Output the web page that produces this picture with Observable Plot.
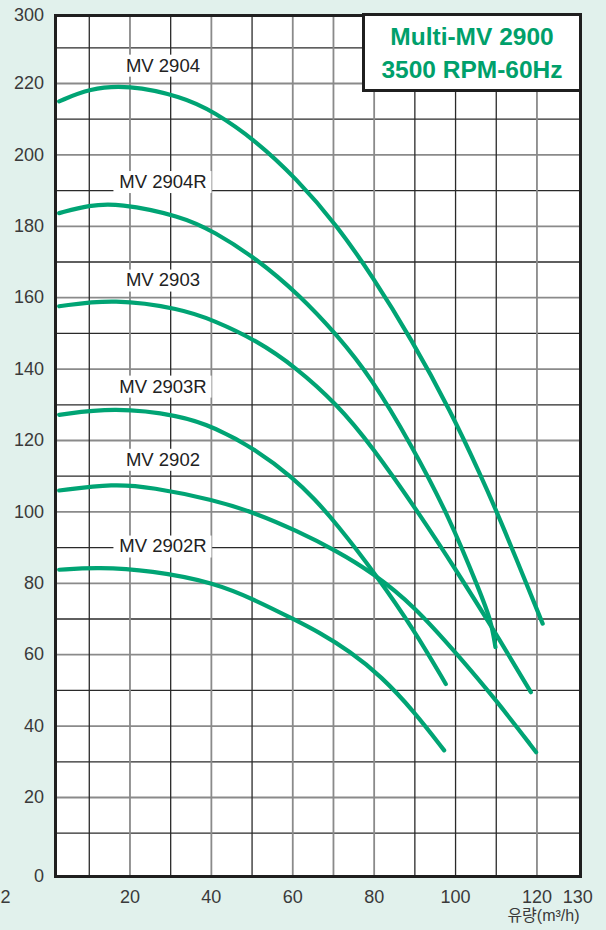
<!DOCTYPE html>
<html>
<head>
<meta charset="utf-8">
<script src="https://cdn.jsdelivr.net/npm/d3@7"></script>
<script src="https://cdn.jsdelivr.net/npm/@observablehq/plot@0.6"></script>
<style>
  html, body { margin: 0; padding: 0; background: #e1f1ec; overflow: hidden; }
  #wrap { position: relative; width: 606px; height: 930px; }
  #title {
    position: absolute; left: 362px; top: 13px; width: 220px; height: 79px;
    box-sizing: border-box; border: 3px solid #1f1f1f; background: #fff;
    font-family: 'Liberation Sans', Arial, sans-serif; font-weight: bold;
    font-size: 24.5px; line-height: 32.6px; color: #00a06b; text-align: center;
    padding-top: 5px;
  }
</style>
</head>
<body>
<div id="wrap">
  <div id="chart"></div>
  <div id="title">Multi-MV 2900<br>3500 RPM-60Hz</div>
</div>
<script>
// ---- data (flow m3/h, head m) ----
const mv2904Q  = [2.6, 10, 19.5, 32.6, 40.7, 51, 60.8, 71, 79.6, 89, 98.9, 106.2, 111.2, 121.4];
const mv2904H  = [215.0, 218.6, 219.6, 216.4, 212.1, 203.9, 193.5, 180.1, 165.9, 148.7, 128.0, 110.2, 97.3, 68.7];
const mv2904RQ = [2.6, 10, 17, 32.5, 40.7, 51, 61.6, 71, 79.2, 89, 98.5, 106.2, 108.7, 109.8];
const mv2904RH = [183.7, 185.9, 186.5, 182.9, 178.5, 171.0, 160.8, 149.4, 137.7, 119.1, 98.5, 77.0, 69.6, 62.1];
const mv2903Q  = [2.6, 16.1, 32.5, 40.7, 51, 60.8, 71, 79.2, 91.5, 100.5, 108.7, 118.5];
const mv2903H  = [157.6, 159.7, 156.9, 153.6, 148.1, 140.5, 130.0, 118.8, 98.8, 83.0, 68.2, 49.5];
const mv2903RQ = [2.6, 16.1, 32.5, 40.7, 51, 60.4, 65.2, 70.6, 80.2, 89.9, 97.6];
const mv2903RH = [127.2, 129.3, 127.0, 123.7, 117.5, 109.2, 103.8, 96.9, 82.8, 66.8, 51.8];
const mv2902Q  = [2.6, 16.1, 25.2, 40.7, 51, 60.8, 70.6, 79.6, 89.9, 100.5, 109.9, 119.8];
const mv2902H  = [106.0, 107.9, 106.9, 103.4, 99.6, 94.8, 89.2, 83.0, 73.6, 60.0, 47.4, 32.7];
const mv2902RQ = [2.6, 12, 25.2, 40.7, 51, 60.8, 66.1, 74, 81.7, 89.9, 97.2];
const mv2902RH = [83.8, 84.5, 83.6, 80.2, 75.2, 69.6, 66.5, 61.0, 54.0, 44.0, 33.2];

const seriesNames = ["MV 2904", "MV 2904R", "MV 2903", "MV 2903R", "MV 2902", "MV 2902R"];
const labelQ = [28.1, 28.1, 28.1, 28.1, 28.1, 28.1];
const labelH = [225.0, 192.4, 164.8, 135.1, 114.6, 90.3];

const xTicks = [20, 40, 60, 80, 100, 120, 130];
const yTickValues = [-2.13, 20, 40, 60, 80, 100, 120, 140, 160, 180, 200, 220, 239.05];
const yTickLabels = ["0", "20", "40", "60", "80", "100", "120", "140", "160", "180", "200", "220", "300"];
const xGridDark = [10, 30, 50, 90, 100, 110];
const xGridLight = [20, 40, 60, 70, 80, 120];
const yGridDark = [10, 30, 50, 70, 90, 110, 130, 150, 170, 190, 210, 230];
const yGridLight = [20, 40, 60, 80, 100, 120, 140, 160, 180, 200, 220];

const seriesQ = [mv2904Q, mv2904RQ, mv2903Q, mv2903RQ, mv2902Q, mv2902RQ];
const seriesH = [mv2904H, mv2904RH, mv2903H, mv2903RH, mv2902H, mv2902RH];
const points = seriesNames.flatMap((name, s) =>
  seriesQ[s].map((q, i) => ({series: name, q, h: seriesH[s][i]})));
const labels = seriesNames.map((name, i) => ({name, q: labelQ[i], h: labelH[i]}));
const labelsR = labels.filter(d => d.name.endsWith("R"));
const labelsN = labels.filter(d => !d.name.endsWith("R"));

const green = "#00a474";
const box = (data, half) => Plot.rect(data, {
  x1: "q", x2: "q", y1: "h", y2: "h", fill: "white",
  insetLeft: -half, insetRight: -half, insetTop: -10.5, insetBottom: -11.5
});

const chart = Plot.plot({
  width: 606,
  height: 930,
  marginLeft: 55,
  marginRight: 26,
  marginTop: 15,
  marginBottom: 54,
  x: {domain: [1.7, 130.7]},
  y: {domain: [-2.13, 239.05]},
  style: {
    background: "transparent",
    fontFamily: "'Liberation Sans', Arial, 'Noto Sans CJK KR', sans-serif",
    fontSize: "18px",
    color: "#3a3a3a"
  },
  marks: [
    Plot.frame({fill: "white", stroke: null}),
    Plot.ruleY(yGridDark, {stroke: "#2a2a2a", strokeWidth: 1.3}),
    Plot.ruleY(yGridLight, {stroke: "#8a8a8a", strokeWidth: 1.8}),
    Plot.ruleX(xGridDark, {stroke: "#2a2a2a", strokeWidth: 1.3}),
    Plot.ruleX(xGridLight, {stroke: "#8a8a8a", strokeWidth: 1.8}),
    box(labelsR, 49),
    box(labelsN, 42),
    Plot.text(labels, {
      x: "q", y: "h", text: "name", fill: "#222",
      fontSize: 18.5, textAnchor: "middle", lineAnchor: "middle"
    }),
    Plot.line(points, {x: "q", y: "h", z: "series", stroke: green, strokeWidth: 4.2, curve: "basis"}),
    Plot.frame({stroke: "#1f1f1f", strokeWidth: 3}),
    Plot.axisY({
      ticks: yTickValues, tickSize: 0, tickPadding: 11.5, label: null,
      tickFormat: d => yTickLabels[yTickValues.indexOf(d)]
    }),
    Plot.axisX({ticks: xTicks, tickSize: 0, tickPadding: 14, label: null}),
    Plot.text(["2"], {frameAnchor: "bottom-left", dx: -45, dy: 14, lineAnchor: "top", textAnchor: "end", fill: "#3a3a3a"}),
    Plot.text(["유량(m³/h)"], {frameAnchor: "bottom-right", dx: -1, dy: 33, lineAnchor: "top", textAnchor: "end", fontSize: 16, fill: "#3a3a3a"})
  ]
});
document.getElementById("chart").appendChild(chart);
</script>
</body>
</html>
